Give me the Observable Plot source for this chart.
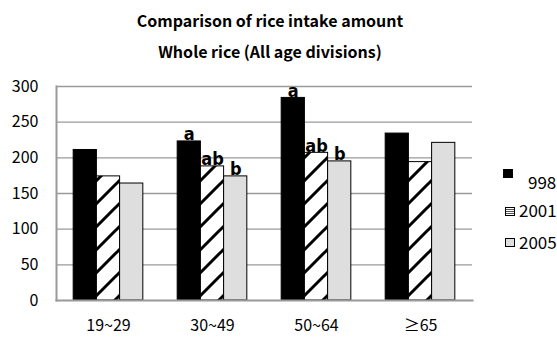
<!DOCTYPE html>
<html><head><meta charset="utf-8">
<script src="https://cdn.jsdelivr.net/npm/d3@7"></script>
<script src="https://cdn.jsdelivr.net/npm/@observablehq/plot@0.6"></script>
<style>
html,body{margin:0;padding:0;background:#fff;overflow:hidden;width:557px;height:340px}
#wrap{position:relative;width:557px;height:340px;overflow:hidden}
#wrap svg{position:absolute;left:0;top:0}
.title{position:absolute;left:0;width:540px;text-align:center;font-family:"Noto Sans CJK KR","Noto Sans",sans-serif;font-weight:bold;font-size:16px;color:#000;line-height:20px}
.leg{position:absolute;font-family:"Noto Sans CJK KR","Noto Sans",sans-serif;font-size:17px;line-height:20px;color:#000;white-space:nowrap}
.box{position:absolute;box-sizing:border-box}
</style>
</head><body>
<div id="wrap">
  <div class="title" style="top:10px">Comparison of rice intake amount</div>
  <div class="title" style="top:41px">Whole rice (All age divisions)</div>
</div>
<script>
const ageGroups = ["19~29", "30~49", "50~64", "≥65"];
const years = ["1998", "2001", "2005"];
const v1998 = [211, 223, 284, 234];
const v2001 = [174, 188, 207, 194];
const v2005 = [164, 174, 195, 221];
const sig1998 = ["", "a", "a", ""];
const sig2001 = ["", "ab", "ab", ""];
const sig2005 = ["", "b", "b", ""];
const yTicks = [0, 50, 100, 150, 200, 250, 300];
const legendLabels = ["998", "2001", "2005"];

const series = {"1998": [v1998, sig1998], "2001": [v2001, sig2001], "2005": [v2005, sig2005]};
const rows = [];
ageGroups.forEach((age, i) => {
  years.forEach(yr => rows.push({age, year: yr, value: series[yr][0][i], sig: series[yr][1][i]}));
});

const fills = {"1998": "#000000", "2001": "url(#hatch)", "2005": "#dedede"};

const chart = Plot.plot({
  width: 557,
  height: 340,
  marginTop: 86,
  marginBottom: 40,
  marginLeft: 55,
  marginRight: 85,
  style: {fontFamily: "'Noto Sans CJK KR', 'Noto Sans', sans-serif", fontSize: "16px", background: "transparent", color: "#000"},
  fx: {domain: ageGroups, padding: 0, label: null, axis: "bottom", tickSize: 0, tickPadding: 19},
  x: {domain: years, paddingInner: 0, paddingOuter: 0.74, axis: null, round: false},
  y: {domain: [0, 300], ticks: yTicks, tickSize: 0, tickPadding: 18, label: null},
  marks: [
    Plot.ruleY(yTicks.filter(d => d > 0), {stroke: "#9a9a9a", strokeWidth: 1.3}),
    ...years.map(yr => Plot.barY(rows.filter(d => d.year === yr), {
      fx: "age", x: "year", y: "value",
      fill: fills[yr], stroke: "#000", strokeWidth: 1,
      insetLeft: 0, insetRight: 0
    })),
    Plot.text(rows.filter(d => d.sig), {
      fx: "age", x: "year", y: "value", text: "sig",
      lineAnchor: "bottom", dy: -1,
      fontFamily: "'Liberation Sans Narrow', 'DejaVu Sans Condensed', sans-serif",
      fontWeight: "bold", fontSize: 18, fill: "#000"
    }),
    Plot.frame({anchor: "left", facet: "super", stroke: "#999", strokeWidth: 2}),
    Plot.frame({anchor: "bottom", facet: "super", stroke: "#999", strokeWidth: 2})
  ]
});

const svg = d3.select(chart);
const defs = svg.insert("defs", ":first-child");
const pat = defs.append("pattern")
  .attr("id", "hatch").attr("patternUnits", "userSpaceOnUse")
  .attr("width", 23).attr("height", 23);
pat.append("rect").attr("width", 23).attr("height", 23).attr("fill", "#fff");
pat.append("path")
  .attr("d", "M0,23L23,0M-2,2L2,-2M21,25L25,21")
  .attr("stroke", "#000").attr("stroke-width", 3);

const wrap = document.getElementById("wrap");
wrap.insertBefore(chart, wrap.firstChild);

// legend
const legendItems = [
  {boxX: 503, boxY: 169, w: 10, h: 9, textX: 528, textY: 172, style: "background:#000"},
  {boxX: 505, boxY: 207, w: 10, h: 9, textX: 519, textY: 200, style: "border:1px solid #000;background:repeating-linear-gradient(to bottom,#fff 0,#fff 1px,#555 1px,#555 2px)"},
  {boxX: 505, boxY: 238, w: 10, h: 9, textX: 519, textY: 232, style: "border:1px solid #000;background:#dedede"}
];
legendItems.forEach((it, i) => {
  const b = document.createElement("div");
  b.className = "box";
  b.style.cssText = `left:${it.boxX}px;top:${it.boxY}px;width:${it.w}px;height:${it.h}px;` + it.style;
  wrap.appendChild(b);
  const t = document.createElement("div");
  t.className = "leg";
  t.style.left = it.textX + "px";
  t.style.top = it.textY + "px";
  t.textContent = legendLabels[i];
  wrap.appendChild(t);
});
</script>
</body></html>
